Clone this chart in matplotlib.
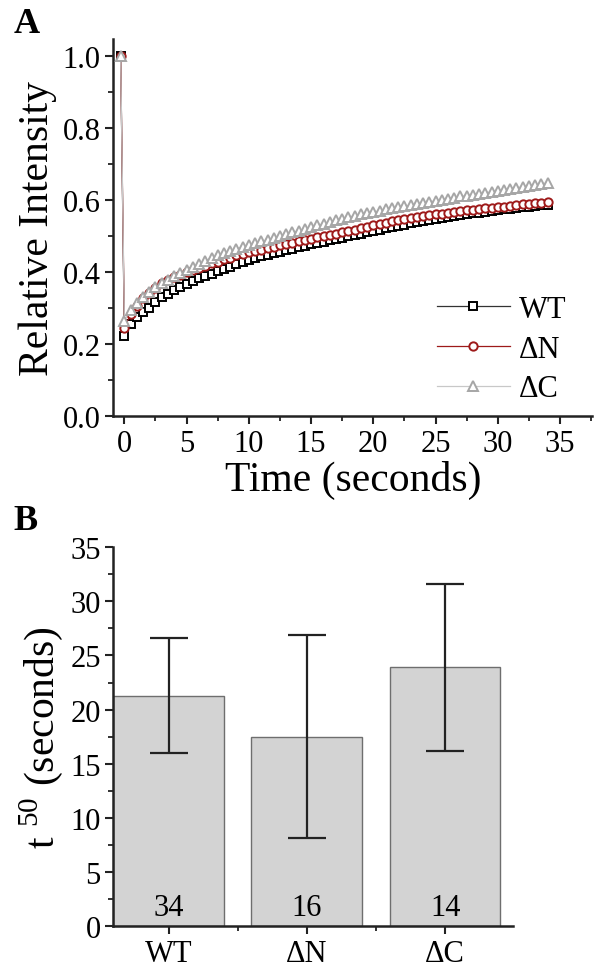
import matplotlib
matplotlib.use("Agg")
import matplotlib.pyplot as plt
from matplotlib.ticker import MultipleLocator, FormatStrFormatter

plt.rcParams['font.family'] = ['Liberation Serif', 'DejaVu Serif']
plt.rcParams['mathtext.fontset'] = 'custom'
plt.rcParams['mathtext.rm'] = 'Liberation Serif'

# %% recovery curves (t = -0.3 is the pre-bleach point)
time = [-0.3,
        0.0, 0.5, 1.0, 1.5, 2.0, 2.5, 3.0, 3.5, 4.0, 4.5,
        5.0, 5.5, 6.0, 6.5, 7.0, 7.5, 8.0, 8.5, 9.0, 9.5,
        10.0, 10.5, 11.0, 11.5, 12.0, 12.5, 13.0, 13.5, 14.0, 14.5,
        15.0, 15.5, 16.0, 16.5, 17.0, 17.5, 18.0, 18.5, 19.0, 19.5,
        20.0, 20.5, 21.0, 21.5, 22.0, 22.5, 23.0, 23.5, 24.0, 24.5,
        25.0, 25.5, 26.0, 26.5, 27.0, 27.5, 28.0, 28.5, 29.0, 29.5,
        30.0, 30.5, 31.0, 31.5, 32.0, 32.5, 33.0, 33.5, 34.0]

wt = [1.0,
      0.222, 0.255, 0.275, 0.289, 0.301, 0.316, 0.330, 0.340, 0.350, 0.359,
      0.368, 0.376, 0.383, 0.389, 0.395, 0.402, 0.409, 0.415, 0.421, 0.428,
      0.434, 0.439, 0.444, 0.448, 0.453, 0.457, 0.461, 0.465, 0.469, 0.473,
      0.477, 0.481, 0.484, 0.488, 0.492, 0.495, 0.499, 0.503, 0.507, 0.510,
      0.514, 0.518, 0.521, 0.525, 0.529, 0.532, 0.535, 0.538, 0.541, 0.544,
      0.548, 0.550, 0.553, 0.555, 0.558, 0.561, 0.563, 0.565, 0.567, 0.570,
      0.572, 0.574, 0.576, 0.578, 0.580, 0.582, 0.584, 0.585, 0.587]

dn = [1.0,
      0.245, 0.283, 0.307, 0.327, 0.343, 0.357, 0.369, 0.377, 0.385, 0.393,
      0.400, 0.405, 0.411, 0.417, 0.424, 0.429, 0.435, 0.440, 0.446, 0.450,
      0.455, 0.458, 0.462, 0.466, 0.470, 0.474, 0.478, 0.482, 0.486, 0.489,
      0.493, 0.496, 0.500, 0.504, 0.507, 0.511, 0.515, 0.518, 0.522, 0.526,
      0.530, 0.534, 0.537, 0.541, 0.545, 0.547, 0.550, 0.552, 0.555, 0.558,
      0.560, 0.562, 0.565, 0.567, 0.569, 0.571, 0.573, 0.575, 0.577, 0.578,
      0.580, 0.582, 0.584, 0.586, 0.588, 0.589, 0.591, 0.592, 0.594]

dc = [1.0,
      0.265, 0.295, 0.315, 0.331, 0.345, 0.358, 0.370, 0.379, 0.388, 0.396,
      0.405, 0.414, 0.423, 0.431, 0.440, 0.446, 0.452, 0.458, 0.464, 0.470,
      0.475, 0.480, 0.485, 0.490, 0.495, 0.500, 0.505, 0.510, 0.515, 0.520,
      0.525, 0.530, 0.534, 0.539, 0.544, 0.548, 0.553, 0.556, 0.560, 0.564,
      0.567, 0.570, 0.574, 0.577, 0.580, 0.583, 0.586, 0.589, 0.592, 0.595,
      0.598, 0.601, 0.604, 0.607, 0.610, 0.612, 0.615, 0.618, 0.620, 0.623,
      0.626, 0.629, 0.632, 0.634, 0.637, 0.640, 0.642, 0.645, 0.648]

# %% t50 bars
groups = ["WT", "\u0394N", "\u0394C"]
t50 = [21.3, 17.5, 23.9]
t50_err = [5.35, 9.35, 7.75]
n_cells = [34, 16, 14]

# %%
fig = plt.figure(figsize=(6.02, 9.79), dpi=100)
axA = fig.add_axes([0.188, 0.574, 0.796, 0.385])
axB = fig.add_axes([0.188, 0.053, 0.664, 0.387])

red = "#9e1a1a"
gray = "#a6a6a6"
axA.plot(time, wt, color="#333333", lw=0.9, marker="s", ms=6, mfc="white",
         mec="black", mew=1.4, label="WT", zorder=3)
axA.plot(time, dn, color=red, lw=0.9, marker="o", ms=6, mfc="white",
         mec=red, mew=1.4, label="\u0394N", zorder=4)
axA.plot(time, dc, color="#c8c8c8", lw=0.9, marker="^", ms=6.5, mfc="white",
         mec=gray, mew=1.4, label="\u0394C", zorder=5)

axA.set_xlim(-0.9, 37.6)
axA.set_ylim(0, 1.047)
axA.xaxis.set_major_locator(MultipleLocator(5))
axA.xaxis.set_minor_locator(MultipleLocator(2.5))
axA.yaxis.set_major_locator(MultipleLocator(0.2))
axA.yaxis.set_minor_locator(MultipleLocator(0.1))
axA.yaxis.set_major_formatter(FormatStrFormatter("%.1f"))
axA.set_xlabel("Time (seconds)", fontsize=30, labelpad=2)
axA.set_ylabel("Relative Intensity", fontsize=30, labelpad=4)
leg = axA.legend(loc="lower right", bbox_to_anchor=(0.985, -0.015), frameon=False,
                 fontsize=22, handlelength=2.4, handletextpad=0.3,
                 labelspacing=0.35, borderaxespad=0.2)

axB.bar(range(len(groups)), t50, width=0.8, color="#d3d3d3", edgecolor="#6e6e6e",
        lw=1.0, yerr=t50_err, capsize=14,
        error_kw=dict(ecolor="#222222", elinewidth=1.6, capthick=1.6))
for i, n in enumerate(n_cells):
    axB.text(i, 0.4, str(n), ha="center", va="bottom", fontsize=22)
axB.set_xlim(-0.4, 2.49)
axB.set_ylim(0, 35)
axB.set_xticks(range(len(groups)))
axB.set_xticklabels(groups)
axB.set_xticks([0.5, 1.5], minor=True)
axB.yaxis.set_major_locator(MultipleLocator(5))
axB.yaxis.set_minor_locator(MultipleLocator(2.5))
axB.set_ylabel(r"t $^{50}$ (seconds)", fontsize=30, labelpad=4)

for ax in (axA, axB):
    for s in ("top", "right"):
        ax.spines[s].set_visible(False)
    for s in ("left", "bottom"):
        ax.spines[s].set_linewidth(1.8)
        ax.spines[s].set_color("#222222")
    ax.tick_params(which="major", direction="out", length=6, width=1.5,
                   labelsize=22, pad=3, color="#222222")
    ax.tick_params(which="minor", direction="out", length=3.5, width=1.3,
                   color="#222222")

fig.text(0.023, 0.975, "A", fontsize=26, fontweight="bold", va="center")
fig.text(0.023, 0.467, "B", fontsize=26, fontweight="bold", va="center")

fig.savefig("out.png", dpi=100)
